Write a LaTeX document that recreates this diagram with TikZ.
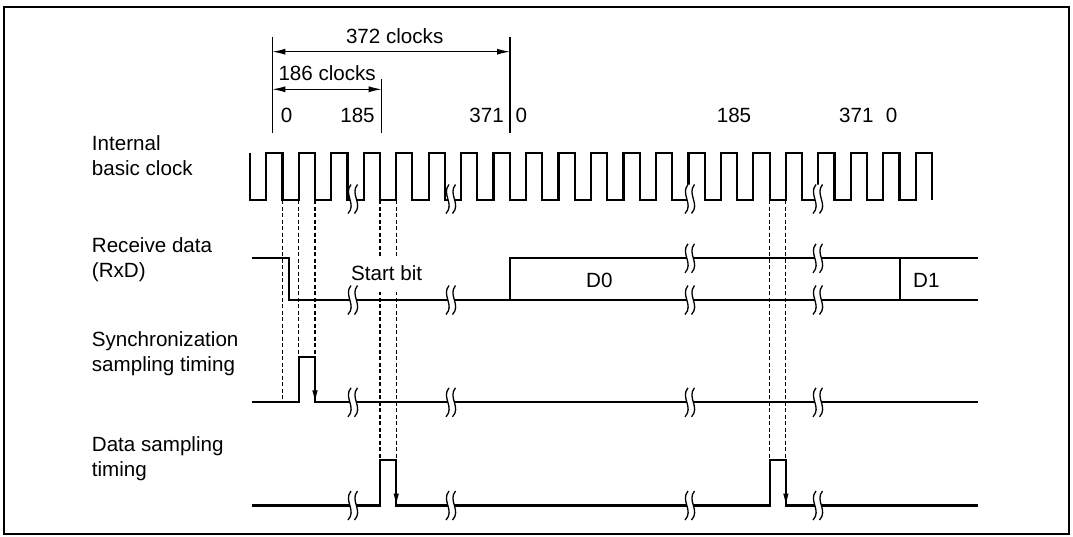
\documentclass[tikz,border=0pt]{standalone}
\usepackage{fontspec}
\setmainfont{Liberation Sans}
\usetikzlibrary{arrows.meta}
\begin{document}
\begin{tikzpicture}[x=1pt,y=-1pt,
  sig/.style={line width=2.2pt, line join=miter},
  guide/.style={line width=1.1pt, dash pattern=on 4pt off 2.5pt},
  dim/.style={line width=1.1pt},
  dimarrow/.style={dim,{Latex[length=13pt,width=6pt]}-{Latex[length=13pt,width=6pt]}},
  downtip/.style={line width=1pt,-{Latex[length=12pt,width=5.5pt]}},
  lbl/.style={inner sep=0pt, font=\fontsize{20.6}{25}\selectfont},
  brk/.pic={
    \fill[white] (-2,-14.5) .. controls (-10,-5) and (4,5) .. (-5,14.5) -- (1.5,14.5) .. controls (10.5,5) and (-3.5,-5) .. (4.5,-14.5) -- cycle;
    \draw[line width=1.3pt] (-2,-14.5) .. controls (-10,-5) and (4,5) .. (-5,14.5);
    \draw[line width=1.3pt] (4.5,-14.5) .. controls (-3.5,-5) and (10.5,5) .. (1.5,14.5);
  }
]
\def\P{32.476}
\useasboundingbox (0,0) rectangle (1073,536);
\draw[line width=2pt] (3.5,6.5) rectangle (1068.5,533.5);

% dimension lines
\coordinate (v0t) at (272.3,36.7); \coordinate (v0b) at (272.3,133);
\coordinate (v1t) at (381.7,79);   \coordinate (v1b) at (381.7,133);
\coordinate (v2t) at (510,36.7);   \coordinate (v2b) at (510,133);
\draw[dim] (v0t) -- (v0b);
\draw[dim] (v1t) -- (v1b);
\draw[dim] (v2t) -- (v2b);
\coordinate (a1l) at (272.3,51.7); \coordinate (a1r) at (510,51.7);
\coordinate (a2l) at (272.3,89.3); \coordinate (a2r) at (381.7,89.3);
\draw[dimarrow] (a1l) -- (a1r);
\draw[dimarrow] (a2l) -- (a2r);
\node[lbl,anchor=base] (t372) at (394.7,43.3) {372 clocks};
\node[lbl,anchor=base west] (t186) at (278.3,80) {186 clocks};
\node[lbl,anchor=base] (n0a) at (286.7,122.5) {0};
\node[lbl,anchor=base] (n185a) at (357.5,122.5) {185};
\node[lbl,anchor=base east] (n371a) at (504,122.5) {371};
\node[lbl,anchor=base] (n0b) at (521.3,122.5) {0};
\node[lbl,anchor=base] (n185b) at (734,122.5) {185};
\node[lbl,anchor=base] (n371b) at (856.3,122.5) {371};
\node[lbl,anchor=base] (n0c) at (891.7,122.5) {0};

% left labels
\node[lbl,anchor=base west,align=left] (lclk) at (91.7,175) {Internal\\basic clock};
\node[lbl,anchor=base west,align=left] (lrxd) at (91.7,277.5) {Receive data\\(RxD)};
\node[lbl,anchor=base west,align=left] (lsync) at (91.7,371) {Synchronization\\sampling timing};
\node[lbl,anchor=base west,align=left] (ldata) at (91.7,476) {Data sampling\\timing};

% guides
\draw[guide] (282.5,200) -- (282.5,402.3);
\draw[guide] (298.7,200) -- (298.7,356.7);
\draw[guide] (315,200) -- (315,356.7);
\draw[guide] (380,200) -- (380,460);
\draw[guide] (396.2,200) -- (396.2,460);
\draw[guide] (769.6,200) -- (769.6,460);
\draw[guide] (785.9,200) -- (785.9,460);

% clock
\draw[sig] (250,153) \foreach \k in {0,...,20} { -- ({250+\k*\P},200) -- ({250+(\k+0.5)*\P},200) -- ({250+(\k+0.5)*\P},153) -- ({250+(\k+1)*\P},153) } -- ({250+21*\P},200);

% RxD
\node[lbl,anchor=base west,fill=white,inner xsep=1pt,text height=22pt,text depth=12pt] (tstart) at (350,280) {Start bit};
\draw[sig] (251.7,258.3) -- (289.3,258.3) -- (289.3,300) -- (978,300);
\draw[sig] (510,300) -- (510,258.3) -- (978,258.3);
\draw[sig] (900,258.3) -- (900,300);
\node[lbl,anchor=base] (td0) at (599.3,287.7) {D0};
\node[lbl,anchor=base] (td1) at (926.3,287.7) {D1};

% sync sampling
\draw[sig] (251.7,402.3) -- (298.7,402.3) -- (298.7,356.7) -- (315,356.7) -- (315,402.3) -- (978,402.3);
\draw[downtip] (315,385) -- (315,402.3);

% data sampling
\draw[sig] (251.7,505.5) -- (380,505.5) -- (380,460) -- (396.2,460) -- (396.2,505.5) -- (769.6,505.5) -- (769.6,460) -- (785.9,460) -- (785.9,505.5) -- (978,505.5);
\draw[downtip] (396.2,488) -- (396.2,505.5);
\draw[downtip] (785.9,488) -- (785.9,505.5);

% break marks
\foreach \bx in {353,451,690,818} {
  \pic at (\bx,199) {brk};
  \pic at (\bx,300) {brk};
  \pic at (\bx,402.3) {brk};
  \pic at (\bx,505.5) {brk};
}
\foreach \bx in {690,818} { \pic at (\bx,258.3) {brk}; }
\end{tikzpicture}
\end{document}
